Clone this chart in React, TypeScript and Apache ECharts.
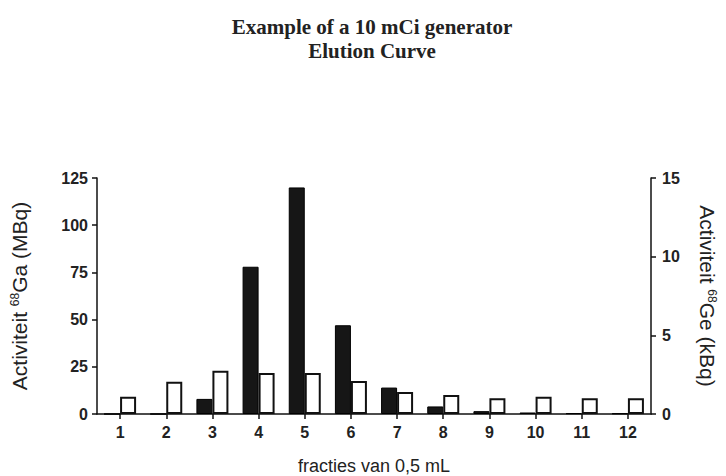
import React, { useEffect, useRef } from "react";
import * as echarts from "echarts";

const fractions = ["1", "2", "3", "4", "5", "6", "7", "8", "9", "10", "11", "12"];
const gaActivity = [0, 0, 8, 78, 120, 47, 14, 4, 1.5, 0.8, 0.4, 0.3];
const geActivity = [1.1, 2.05, 2.75, 2.6, 2.6, 2.1, 1.4, 1.2, 1.0, 1.1, 1.0, 1.0];
const leftTicks = { min: 0, max: 125, interval: 25 };
const rightTicks = { min: 0, max: 15, interval: 5 };

export default function App() {
  const ref = useRef<HTMLDivElement>(null);
  useEffect(() => {
    if (!ref.current) return;
    const chart = echarts.init(ref.current, null, { renderer: "svg" });
    const axisLine = { show: true, lineStyle: { color: "#111", width: 1.5 } };
    const tickStyle = { show: true, length: 5, lineStyle: { color: "#111", width: 1.5 } };
    const tickLabel = { color: "#222", fontFamily: "Liberation Sans", fontSize: 16, fontWeight: "bold" as const };
    const nameStyle = {
      color: "#222",
      fontFamily: "Liberation Sans",
      fontSize: 21,
      rich: {
        sup: { fontSize: 12, fontFamily: "Liberation Sans", color: "#222", padding: [0, 0, 9, 0] },
      },
    };
    chart.setOption({
      animation: false,
      backgroundColor: "#fff",
      title: {
        text: "Example of a 10 mCi generator\nElution Curve",
        left: 367,
        top: 10,
        textAlign: "center",
        textStyle: {
          fontFamily: "Liberation Serif",
          fontSize: 21,
          fontWeight: "bold",
          color: "#222",
          lineHeight: 24,
        },
      },
      grid: { left: 97, right: 58, top: 178, bottom: 62 },
      xAxis: {
        type: "category",
        data: fractions,
        axisLine,
        axisTick: { ...tickStyle, alignWithLabel: true },
        axisLabel: { ...tickLabel, margin: 10 },
        name: "fracties van 0,5 mL",
        nameLocation: "middle",
        nameGap: 43,
        nameTextStyle: { color: "#222", fontFamily: "Liberation Sans", fontSize: 18 },
      },
      yAxis: [
        {
          type: "value",
          ...leftTicks,
          position: "left",
          axisLine,
          axisTick: tickStyle,
          splitLine: { show: false },
          axisLabel: { ...tickLabel, margin: 9 },
          name: "Activiteit {sup|68}Ga (MBq)",
          nameLocation: "middle",
          nameGap: 67,
          nameTextStyle: nameStyle,
        },
        {
          type: "value",
          ...rightTicks,
          position: "right",
          axisLine,
          axisTick: tickStyle,
          splitLine: { show: false },
          axisLabel: { ...tickLabel, margin: 11 },
          name: "Activiteit {sup|68}Ge (kBq)",
          nameLocation: "middle",
          nameRotate: -90,
          nameGap: 46,
          nameTextStyle: nameStyle,
        },
      ],
      series: [
        {
          type: "bar",
          name: "68Ga",
          data: gaActivity,
          yAxisIndex: 0,
          barWidth: 16,
          barGap: "0%",
          itemStyle: { color: "#161616", borderColor: "#000", borderWidth: 1 },
        },
        {
          type: "bar",
          name: "68Ge",
          data: geActivity,
          yAxisIndex: 1,
          barWidth: 16,
          barGap: "0%",
          itemStyle: { color: "#fff", borderColor: "#111", borderWidth: 2 },
        },
      ],
    });
    return () => chart.dispose();
  }, []);
  return <div ref={ref} style={{ width: 726, height: 476, position: "absolute", left: 0, top: 0 }} />;
}
